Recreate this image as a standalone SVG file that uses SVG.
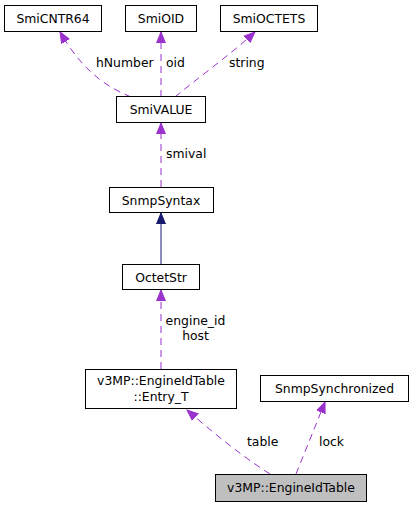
<svg xmlns="http://www.w3.org/2000/svg" width="413" height="507" viewBox="0 0 413 507">
<style>
.box{fill:#ffffff;stroke:#000000;stroke-width:1}
.cur{fill:#bfbfbf;stroke:#000000;stroke-width:1}
text{font-family:"DejaVu Sans","Liberation Sans",sans-serif;font-size:12.4px;fill:#000000}
.c{text-anchor:middle}
.use{fill:none;stroke:#9a32cd;stroke-width:1;stroke-dasharray:7,5;marker-end:url(#ap)}
.inh{fill:none;stroke:#191970;stroke-width:1;marker-end:url(#an)}
</style>
<defs>
<marker id="ap" markerUnits="userSpaceOnUse" viewBox="0 -6 12 12" refX="11" refY="0" markerWidth="12" markerHeight="12" orient="auto">
<path d="M0,-4.5 L11,0 L0,4.5 z" fill="#9a32cd" stroke="#9a32cd" stroke-width="1"/>
</marker>
<marker id="an" markerUnits="userSpaceOnUse" viewBox="0 -6 12 12" refX="11" refY="0" markerWidth="12" markerHeight="12" orient="auto">
<path d="M0,-4.5 L11,0 L0,4.5 z" fill="#191970" stroke="#191970" stroke-width="1"/>
</marker>
</defs>
<g id="edges">
<path class="use" d="M131,97 C110,88 85,75 60,32"/>
<path class="use" d="M161,97 L161,32"/>
<path class="use" d="M175,97 C195,80 230,55 255,32"/>
<path class="use" d="M161,187 L161,123"/>
<path class="inh" d="M161,264 L161,213"/>
<path class="use" d="M161,369 L161,290"/>
<path class="use" d="M270,474 C240,455 210,430 187,410"/>
<path class="use" d="M296,474 L325,402"/>
<text x="96" y="67">hNumber</text>
<text x="166" y="67">oid</text>
<text x="229" y="67">string</text>
<text x="166" y="158">smival</text>
<text class="c" x="195.5" y="325">engine_id</text>
<text class="c" x="195.5" y="339.5">host</text>
<text x="247" y="446">table</text>
<text x="319" y="446">lock</text>
</g>
<g id="SmiCNTR64"><rect class="box" x="4.5" y="5.5" width="97" height="26"/><text class="c" x="53" y="22.5">SmiCNTR64</text></g>
<g id="SmiOID"><rect class="box" x="125.5" y="5.5" width="71" height="26"/><text class="c" x="161" y="22.5">SmiOID</text></g>
<g id="SmiOCTETS"><rect class="box" x="220.5" y="5.5" width="97" height="26"/><text class="c" x="269" y="22.5">SmiOCTETS</text></g>
<g id="SmiVALUE"><rect class="box" x="116.5" y="96.5" width="89" height="26"/><text class="c" x="161" y="114">SmiVALUE</text></g>
<g id="SnmpSyntax"><rect class="box" x="109.5" y="187.5" width="104" height="25"/><text class="c" x="161" y="204.5">SnmpSyntax</text></g>
<g id="OctetStr"><rect class="box" x="122.5" y="264.5" width="77" height="25"/><text class="c" x="161" y="281.5">OctetStr</text></g>
<g id="Entry_T"><rect class="box" x="85.5" y="369.5" width="151" height="39"/><text class="c" x="161" y="384.5">v3MP::EngineIdTable</text><text class="c" x="161" y="401">::Entry_T</text></g>
<g id="SnmpSynchronized"><rect class="box" x="260.5" y="375.5" width="148" height="26"/><text class="c" x="334.5" y="393">SnmpSynchronized</text></g>
<g id="EngineIdTable"><rect class="cur" x="215.5" y="474.5" width="151" height="27"/><text class="c" x="291" y="492">v3MP::EngineIdTable</text></g>
</svg>
